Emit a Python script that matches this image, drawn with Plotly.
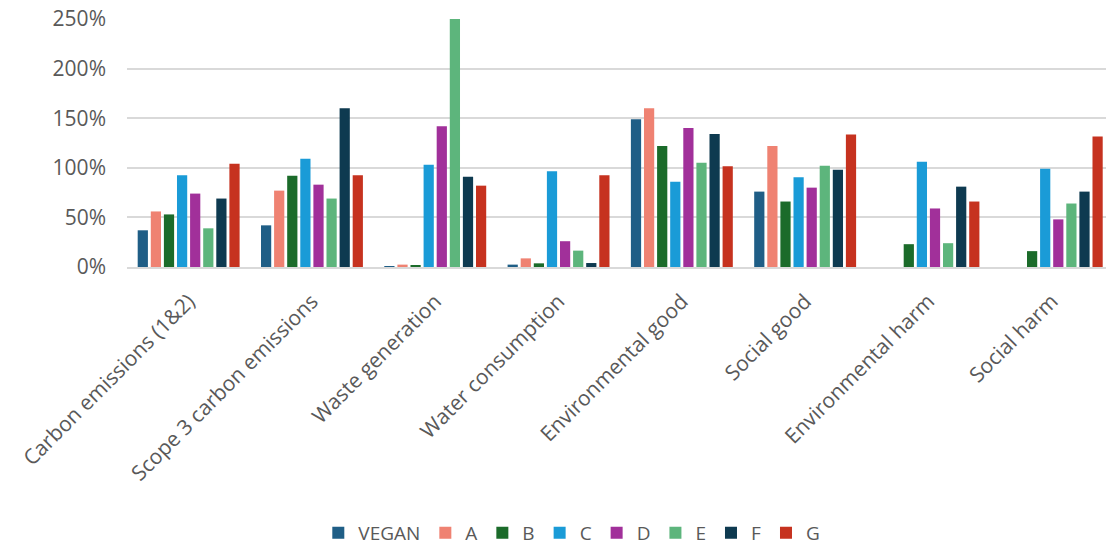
import plotly.graph_objects as go

categories = [
    "Carbon emissions (1&2)",
    "Scope 3 carbon emissions",
    "Waste generation",
    "Water consumption",
    "Environmental good",
    "Social good",
    "Environmental harm",
    "Social harm",
]

# Percent values per series, one entry per category
vegan = [37, 42, 1, 2.4, 149, 76, 0, 0]
a_vals = [56, 77, 2.4, 8.7, 160, 122, 0, 0]
b_vals = [53, 92, 1.3, 3.7, 122, 66, 23, 16]
c_vals = [92.5, 109, 103, 96.6, 86, 90.5, 106, 99]
d_vals = [74, 83, 142, 26, 140, 80, 59, 48]
e_vals = [39, 69, 250, 16.5, 105, 102, 24, 64]
f_vals = [69, 160, 91, 4, 134, 98, 81, 76]
g_vals = [104, 92.5, 82, 92.5, 101.6, 133.6, 66, 131.6]

series_names = ["VEGAN", "A", "B", "C", "D", "E", "F", "G"]
series_values = [vegan, a_vals, b_vals, c_vals, d_vals, e_vals, f_vals, g_vals]
series_colors = ["#1f5e86", "#ef8272", "#1b6b2a", "#1a9bd7",
                 "#a1309a", "#5db57c", "#0e3a50", "#c6321f"]

y_ticks = [0, 50, 100, 150, 200, 250]
y_tick_labels = ["0%", "50%", "100%", "150%", "200%", "250%"]

text_color = "#595959"
font_family = "Open Sans, Noto Sans, sans-serif"

fig = go.Figure()
for name, vals, col in zip(series_names, series_values, series_colors):
    fig.add_trace(go.Bar(
        name=name,
        x=categories,
        y=vals,
        marker=dict(color=col, line=dict(width=0)),
    ))

fig.update_layout(
    width=1106,
    height=546,
    barmode="group",
    bargap=0.15,
    bargroupgap=0.22,
    plot_bgcolor="white",
    paper_bgcolor="white",
    margin=dict(l=127, r=0, t=19, b=279, autoexpand=False),
    font=dict(family=font_family, size=21, color=text_color),
    showlegend=True,
    legend=dict(
        orientation="h",
        xref="container",
        yref="container",
        x=0.517,
        xanchor="center",
        y=0.024,
        yanchor="middle",
        font=dict(size=19, color=text_color),
        traceorder="normal",
        itemwidth=30,
    ),
    xaxis=dict(
        range=[-0.5, 7.44],
        tickangle=-45,
        showgrid=False,
        showline=True,
        linecolor="#d9d9d9",
        linewidth=1.5,
        ticks="",
        ticklabelstandoff=12,
        automargin=False,
        tickfont=dict(size=21, color=text_color),
    ),
    yaxis=dict(
        range=[0, 250],
        tickvals=y_ticks,
        ticktext=y_tick_labels,
        showgrid=True,
        gridcolor="#d9d9d9",
        gridwidth=1.5,
        zeroline=False,
        showline=False,
        ticks="",
        ticklabelstandoff=20,
        automargin=False,
        tickfont=dict(size=21, color=text_color),
    ),
)

fig.write_html("out.html")
